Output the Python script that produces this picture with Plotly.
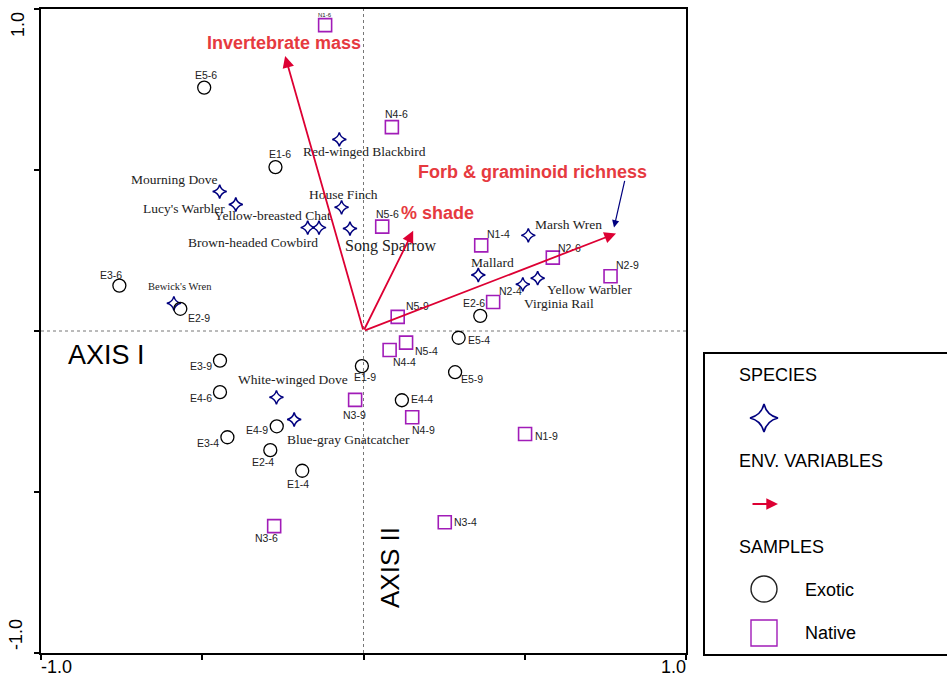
import plotly.graph_objects as go

# ---------------- data ----------------
species_names = ["Red-winged Blackbird", "Mourning Dove", "Lucy's Warbler", "Yellow-breasted Chat",
                 "Brown-headed Cowbird", "House Finch", "Song Sparrow", "Bewick's Wren", "Marsh Wren",
                 "Mallard", "Yellow Warbler", "Virginia Rail", "White-winged Dove", "Blue-gray Gnatcatcher"]
species_x = [-0.075, -0.446, -0.396, -0.173, -0.138, -0.068, -0.042, -0.588, 0.511, 0.356, 0.540, 0.494, -0.270, -0.215]
species_y = [0.595, 0.433, 0.393, 0.321, 0.321, 0.384, 0.318, 0.086, 0.297, 0.174, 0.164, 0.145, -0.206, -0.275]

exotic_names = ["E5-6", "E1-6", "E3-6", "E2-9", "E2-6", "E5-4", "E1-9", "E5-9", "E4-4", "E3-9", "E4-6",
                "E4-9", "E3-4", "E2-4", "E1-4"]
exotic_x = [-0.494, -0.273, -0.757, -0.568, 0.362, 0.295, -0.005, 0.284, 0.119, -0.445, -0.445, -0.269, -0.422, -0.289, -0.190]
exotic_y = [0.756, 0.509, 0.141, 0.069, 0.047, -0.021, -0.109, -0.128, -0.215, -0.092, -0.190, -0.296, -0.330, -0.370, -0.434]

native_names = ["N1-6", "N4-6", "N5-6", "N1-4", "N2-6", "N2-9", "N2-4", "N5-9", "N5-4", "N4-4", "N3-9",
                "N4-9", "N1-9", "N3-4", "N3-6"]
native_x = [-0.119, 0.088, 0.058, 0.365, 0.587, 0.766, 0.402, 0.106, 0.132, 0.081, -0.026, 0.151, 0.501, 0.252, -0.277]
native_y = [0.950, 0.633, 0.324, 0.266, 0.228, 0.170, 0.090, 0.044, -0.036, -0.059, -0.214, -0.268, -0.320, -0.594, -0.606]

env_names = ["Invertebrate mass", "% shade", "Forb & graminoid richness"]
env_x = [-0.243, 0.154, 0.783]
env_y = [0.854, 0.311, 0.303]

axis_ticks = [-1.0, -0.5, 0.0, 0.5, 1.0]

# ---------------- style (label offsets in px: dx right, dy down) ----------------
species_off = [(25, 12), (-45, -12), (-52, 4), (-35, -12), (-66, 15), (2, -13), (41, 17), (6, -17),
               (40, -11), (14, -12), (52, 11), (36, 19), (17, -18), (54, 20)]
species_fs = [13.5, 13.5, 13.5, 13.5, 13.5, 13.5, 16, 10.5, 13.5, 13.5, 13.5, 13.5, 13.5, 13.5]
exotic_off = [(2, -13), (5, -13), (-8, -11), (19, 9), (-6, -13), (20, 2), (3, 11), (17, 7), (20, -1),
              (-19, 5), (-19, 6), (-20, 4), (-19, 6), (-7, 12), (-4, 13)]
native_off = [(0, -10), (5, -13), (5, -13), (17, -11), (17, -10), (17, -11), (17, -11), (20, -11),
              (20, 8), (15, 12), (-1, 15), (11, 13), (21, 2), (21, 0), (-8, 12)]
native_fs = [6] + [10.5] * 14
env_off = [(-1, -13), (24, -18), (-84, -61)]

NAVY = "#00007F"
PURPLE = "#A11CB8"
RED_ARROW = "#DD0033"
RED_TEXT = "#E63A3F"
SANS = "Liberation Sans, Arial, sans-serif"
SERIF = "Liberation Serif, Times New Roman, serif"

W, H = 947, 679
ML, MT, MB = 41, 9, 26
PW = W - ML          # paper width in px (r margin = 0)
PH = H - MT - MB     # paper height in px
PLOT_W = 645


def px(xp):
    return (xp - ML) / PW


def py(yp):
    return (H - MB - yp) / PH


fig = go.Figure()

# main marks
fig.add_trace(go.Scatter(x=species_x, y=species_y, mode="markers", hoverinfo="skip",
                         marker=dict(symbol="star-diamond-open", size=10, color=NAVY,
                                     line=dict(width=1.5, color=NAVY))))
fig.add_trace(go.Scatter(x=exotic_x, y=exotic_y, mode="markers", hoverinfo="skip",
                         marker=dict(symbol="circle-open", size=13, color="black",
                                     line=dict(width=1.3, color="black"))))
fig.add_trace(go.Scatter(x=native_x, y=native_y, mode="markers", hoverinfo="skip",
                         marker=dict(symbol="square-open", size=13, color=PURPLE,
                                     line=dict(width=1.6, color=PURPLE))))

ann = []
for n, x, y, (dx, dy), fs in zip(species_names, species_x, species_y, species_off, species_fs):
    ann.append(dict(x=x, y=y, xref="x", yref="y", text=n, showarrow=False, xshift=dx, yshift=-dy,
                    xanchor="center", yanchor="middle",
                    font=dict(family=SERIF, size=fs, color="#222222")))
for n, x, y, (dx, dy) in zip(exotic_names, exotic_x, exotic_y, exotic_off):
    ann.append(dict(x=x, y=y, xref="x", yref="y", text=n, showarrow=False, xshift=dx, yshift=-dy,
                    xanchor="center", yanchor="middle",
                    font=dict(family=SANS, size=10.5, color="#222222")))
for n, x, y, (dx, dy), fs in zip(native_names, native_x, native_y, native_off, native_fs):
    ann.append(dict(x=x, y=y, xref="x", yref="y", text=n, showarrow=False, xshift=dx, yshift=-dy,
                    xanchor="center", yanchor="middle",
                    font=dict(family=SANS, size=fs, color="#222222")))

# environmental arrows
for n, x, y, (dx, dy) in zip(env_names, env_x, env_y, env_off):
    ann.append(dict(x=x, y=y, xref="x", yref="y", ax=0, ay=0, axref="x", ayref="y", text="",
                    showarrow=True, arrowhead=2, arrowsize=1.3, arrowwidth=1.8, arrowcolor=RED_ARROW,
                    standoff=0))
    ann.append(dict(x=x, y=y, xref="x", yref="y", text="<b>" + n.replace("&", "&amp;") + "</b>",
                    showarrow=False, xshift=dx, yshift=-dy, xanchor="center", yanchor="middle",
                    font=dict(family=SANS, size=18, color=RED_TEXT)))
# navy pointer to the richness arrow
ann.append(dict(x=env_x[2], y=env_y[2], xref="x", yref="y", xshift=-2, yshift=6, ax=11, ay=-48,
                text="", showarrow=True, arrowhead=2, arrowsize=1.2, arrowwidth=1.2, arrowcolor=NAVY,
                standoff=0))


def paper_text(txt, xp, yp, size, angle=0, xanchor="center"):
    return dict(x=px(xp), y=py(yp), xref="paper", yref="paper", text=txt, showarrow=False,
                textangle=angle, xanchor=xanchor, yanchor="middle", borderpad=0,
                font=dict(family=SANS, size=size, color="black"))


# axis titles
ann.append(paper_text("AXIS I", 106, 355, 27))
ann.append(paper_text("AXIS II", 390, 568, 26, angle=-90))
# tick labels
ann.append(paper_text("1.0", 18, 25, 18, angle=-90))
ann.append(paper_text("-1.0", 16, 635, 18, angle=-90))
ann.append(paper_text("-1.0", 40, 667, 18, xanchor="left"))
ann.append(paper_text("1.0", 687, 667, 18, xanchor="right"))

# ---------------- legend (drawn in a helper axis, units = px inside the box) ----------------
fig.add_trace(go.Scatter(x=[60], y=[65], xaxis="x2", yaxis="y2", mode="markers", hoverinfo="skip",
                         marker=dict(symbol="star-diamond-open", size=20, color=NAVY,
                                     line=dict(width=1.6, color=NAVY))))
fig.add_trace(go.Scatter(x=[60], y=[236], xaxis="x2", yaxis="y2", mode="markers", hoverinfo="skip",
                         marker=dict(symbol="circle-open", size=26, color="#222222",
                                     line=dict(width=1.4, color="#222222"))))
fig.add_trace(go.Scatter(x=[60], y=[280], xaxis="x2", yaxis="y2", mode="markers", hoverinfo="skip",
                         marker=dict(symbol="square-open", size=26, color=PURPLE,
                                     line=dict(width=1.4, color=PURPLE))))
for txt, lx, ly in [("SPECIES", 33, 22), ("ENV. VARIABLES", 33, 108), ("SAMPLES", 33, 194),
                    ("Exotic", 99, 237), ("Native", 99, 280)]:
    ann.append(dict(x=lx, y=ly, xref="x2", yref="y2", text=txt, showarrow=False, xanchor="left",
                    yanchor="middle", font=dict(family=SANS, size=18, color="black")))
ann.append(dict(x=74, y=151, ax=47, ay=151, xref="x2", yref="y2", axref="x2", ayref="y2", text="",
                showarrow=True, arrowhead=2, arrowsize=1.3, arrowwidth=1.8, arrowcolor=RED_ARROW,
                standoff=0))

shapes = [
    dict(type="line", xref="x", yref="y", x0=0, x1=0, y0=-1, y1=1,
         line=dict(color="#777777", width=1, dash="dot"), layer="below"),
    dict(type="line", xref="x", yref="y", x0=-1, x1=1, y0=0, y1=0,
         line=dict(color="#777777", width=1, dash="dot"), layer="below"),
    dict(type="rect", xref="paper", yref="paper", x0=px(704), x1=px(952), y0=py(655), y1=py(353),
         line=dict(color="black", width=2), fillcolor="rgba(0,0,0,0)"),
]

axis_common = dict(range=[-1, 1], showgrid=False, zeroline=False, showline=True, linecolor="black",
                   linewidth=1.5, mirror=True, ticks="outside", ticklen=5, tickwidth=1.5,
                   tickcolor="black", tickvals=axis_ticks, showticklabels=False, fixedrange=True)

fig.update_layout(
    width=W, height=H,
    margin=dict(l=ML, r=0, t=MT, b=MB, pad=0),
    paper_bgcolor="white", plot_bgcolor="white",
    showlegend=False,
    xaxis=dict(domain=[0, PLOT_W / PW], **axis_common),
    yaxis=dict(domain=[0, 1], **axis_common),
    xaxis2=dict(domain=[px(704), 1], range=[0, W - 704], visible=False, anchor="y2", fixedrange=True),
    yaxis2=dict(domain=[0, py(353)], range=[300, 0], visible=False, anchor="x2", fixedrange=True),
    annotations=ann,
    shapes=shapes,
)

fig.write_html("out.html", config={"displayModeBar": False},
               post_script="document.body.style.margin='0px';document.body.style.overflow='hidden';")
